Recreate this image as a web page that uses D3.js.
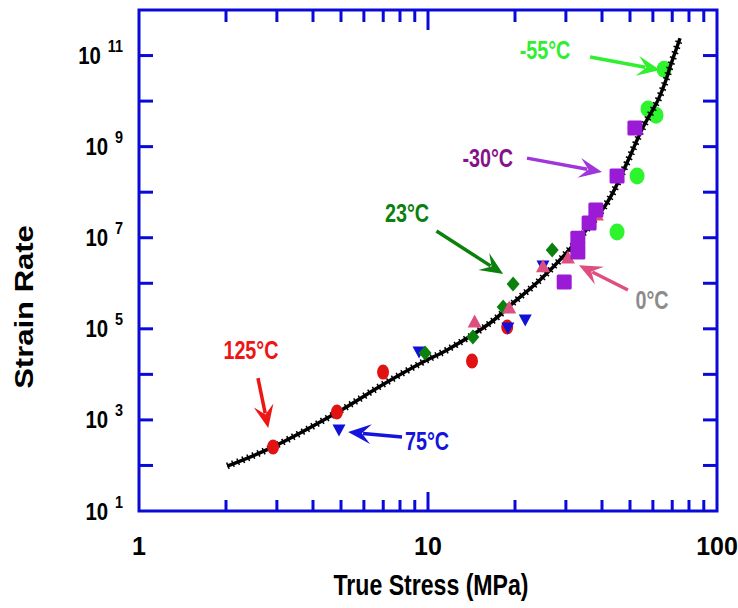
<!DOCTYPE html>
<html>
<head>
<meta charset="utf-8">
<script src="https://cdn.jsdelivr.net/npm/d3@7"></script>
<style>
    body { margin: 0; background: #fff; }
    text { font-family: "Liberation Sans", Arial, sans-serif; font-weight: bold; }
</style>
</head>
<body>
<div id="chart"></div>
<script>
"use strict"

// Fitted curve (stress MPa, strain rate)
var curveStress = [2.02, 2.91, 4.84, 6.99, 9.5, 11.6, 16.4, 19.7, 24.4, 30.3, 41.6, 48.8, 55.5, 62.5, 66.6, 68.8, 74.5];
var curveRate = [97, 255, 1450, 6000, 18000, 34000, 1.34e5, 3.7e5, 1.18e6, 4.85e6, 5.8e7, 4.4e8, 2.7e9, 1.05e10, 2.9e10, 5.6e10, 2.4e11];

// Measured points per temperature, [stress, rate]
var pts125 = [[2.91, 254], [4.84, 1490], [6.99, 11200], [14.2, 19600], [18.8, 1.1e5]];
var pts75 = [[4.92, 600], [9.31, 30900], [18.9, 1.04e5], [21.7, 1.56e5], [25.0, 2.4e6]];
var pts23 = [[9.77, 29400], [14.3, 66000], [18.2, 3.0e5], [19.7, 9.6e5], [26.9, 5.4e6]];
var pts0 = [[14.5, 1.41e5], [19.1, 2.86e5], [25.0, 2.3e6], [30.5, 3.58e6], [38.4, 3.15e7]];
var ptsM30 = [[52.0, 2.56e9], [45.1, 2.27e8], [38.1, 4.06e7], [36.1, 2.1e7], [33.0, 9.8e6], [33.0, 4.85e6], [29.6, 1.06e6]];
var ptsM55 = [[65.6, 5.0e10], [57.7, 6.7e9], [61.5, 4.9e9], [52.9, 2.27e8], [45.1, 1.33e7]];

// Annotation labels: text, label centre, arrow tail, arrow tip (data units)
var annoText = ["-55°C", "-30°C", "23°C", "125°C", "75°C", "0°C"];
var annoLabel = [[25.4, 1.32e11], [16.1, 5.6e8], [8.46, 3.5e7], [2.44, 34300], [9.92, 344], [59.6, 4.29e5]];
var annoTail = [[36.4, 9.3e10], [22.0, 5.6e8], [10.7, 1.4e7], [2.58, 8300], [8.13, 422], [49.2, 7.1e5]];
var annoTip = [[63.5, 4.8e10], [40.0, 2.77e8], [18.2, 1.6e6], [2.80, 664], [5.29, 542], [33.3, 2.5e6]];
var annoColor = ["#2fef2f", "#86128a", "#0c800c", "#ee1515", "#1414dd", "#8c8c8c"];
var arrowColor = ["#2fef2f", "#a035dc", "#0c800c", "#ee1515", "#1414dd", "#de4f80"];

// Tick values
var xMinorTicks = [2, 3, 4, 5, 6, 7, 8, 9, 20, 30, 40, 50, 60, 70, 80, 90];
var xLabels = [1, 10, 100];
var yTickExp = [2, 3, 4, 5, 6, 7, 8, 9, 10, 11];
var yLabelExp = [1, 3, 5, 7, 9, 11];

var width = 738, height = 608;
var margin = { top: 10, right: 21, bottom: 97, left: 139 };
var drawWidth = width - margin.left - margin.right;
var drawHeight = height - margin.top - margin.bottom;
var axisColor = "#0a0ad8";

var svg = d3.select("#chart").append("svg")
    .attr("width", width)
    .attr("height", height);

var xScale = d3.scaleLog().domain([1, 100]).range([margin.left, margin.left + drawWidth]);
var yScale = d3.scaleLog().domain([10, 1e12]).range([margin.top + drawHeight, margin.top]);

var x0 = xScale.range()[0], x1 = xScale.range()[1];
var y0 = yScale.range()[0], y1 = yScale.range()[1];

// No Arial Narrow installed, so squeeze Liberation Sans instead
function narrowText(parent, x, y, size, anchor, squeeze) {
    return parent.append("text")
        .attr("transform", "translate(" + x + "," + y + ") scale(" + (squeeze || 0.78) + ",1)")
        .attr("text-anchor", anchor)
        .style("font-size", size + "px");
}

// Frame ticks, pointing inward on all four sides
var ticks = svg.append("g").attr("stroke", axisColor).attr("stroke-width", 3);
xMinorTicks.concat([10]).forEach(function (v) {
    var len = v === 10 ? 19 : 11;
    ticks.append("line").attr("x1", xScale(v)).attr("x2", xScale(v)).attr("y1", y0).attr("y2", y0 - len);
    ticks.append("line").attr("x1", xScale(v)).attr("x2", xScale(v)).attr("y1", y1).attr("y2", y1 + len + 1);
});
yTickExp.forEach(function (e) {
    var y = yScale(Math.pow(10, e));
    ticks.append("line").attr("x1", x0).attr("x2", x0 + 14).attr("y1", y).attr("y2", y);
    ticks.append("line").attr("x1", x1).attr("x2", x1 - 14).attr("y1", y).attr("y2", y);
});

svg.append("rect")
    .attr("x", x0).attr("y", y1)
    .attr("width", x1 - x0).attr("height", y0 - y1)
    .attr("fill", "none")
    .attr("stroke", axisColor)
    .attr("stroke-width", 3);

// Tick labels
svg.selectAll(".xlabel").data(xLabels).enter().append("text")
    .attr("class", "xlabel")
    .attr("x", function (d) { return xScale(d); })
    .attr("y", y0 + 44)
    .attr("text-anchor", "middle")
    .style("font-size", "25px")
    .text(function (d) { return d; });

yLabelExp.forEach(function (e) {
    var t = narrowText(svg, 123, yScale(Math.pow(10, e)) + 8.5, 24, "end", 0.85);
    t.append("tspan").text("10");
    t.append("tspan").attr("dx", 8).attr("dy", -12).style("font-size", "17px").text(e);
});

// Axis titles
narrowText(svg, 431, 595, 30, "middle", 0.77).text("True Stress (MPa)");

svg.append("text")
    .attr("transform", "translate(33,307) rotate(-90) scale(1,0.86)")
    .attr("text-anchor", "middle")
    .style("font-size", "31px")
    .text("Strain Rate");

// -55°C circles sit under the curve
var plot = svg.append("g");
plot.selectAll(".m55").data(ptsM55).enter().append("ellipse")
    .attr("cx", function (d) { return xScale(d[0]); })
    .attr("cy", function (d) { return yScale(d[1]); })
    .attr("rx", 7.5).attr("ry", 8.5)
    .attr("fill", "#2ef42e");

// Fitted curve: solid core plus short cross-hatch to mimic the dense data trace
var line = d3.line()
    .x(function (d) { return xScale(d[0]); })
    .y(function (d) { return yScale(d[1]); })
    .curve(d3.curveCatmullRom.alpha(0.5));
var curveData = curveStress.map(function (s, i) { return [s, curveRate[i]]; });

plot.append("path").datum(curveData)
    .attr("d", line).attr("fill", "none")
    .attr("stroke", "#000").attr("stroke-width", 3.5);
plot.append("path").datum(curveData)
    .attr("d", line).attr("fill", "none")
    .attr("stroke", "#000").attr("stroke-width", 7)
    .attr("stroke-dasharray", "1.5,4");

// 125°C: red ovals
plot.selectAll(".p125").data(pts125).enter().append("ellipse")
    .attr("cx", function (d) { return xScale(d[0]); })
    .attr("cy", function (d) { return yScale(d[1]); })
    .attr("rx", 6).attr("ry", 7.5)
    .attr("fill", "#e01212");

// 75°C: blue down triangles
plot.selectAll(".p75").data(pts75).enter().append("path")
    .attr("transform", function (d) { return "translate(" + xScale(d[0]) + "," + yScale(d[1]) + ")"; })
    .attr("d", "M-6.5,-5.5L6.5,-5.5L0,6.5Z")
    .attr("fill", "#1010d8");

// 23°C: green diamonds
plot.selectAll(".p23").data(pts23).enter().append("path")
    .attr("transform", function (d) { return "translate(" + xScale(d[0]) + "," + yScale(d[1]) + ")"; })
    .attr("d", "M0,-7.5L6.5,0L0,7.5L-6.5,0Z")
    .attr("fill", "#0c800c");

// 0°C: pink up triangles
plot.selectAll(".p0").data(pts0).enter().append("path")
    .attr("transform", function (d) { return "translate(" + xScale(d[0]) + "," + yScale(d[1]) + ")"; })
    .attr("d", "M0,-7.5L7,5.5L-7,5.5Z")
    .attr("fill", "#dc5080");

// -30°C: purple squares
plot.selectAll(".m30").data(ptsM30).enter().append("rect")
    .attr("x", function (d) { return xScale(d[0]) - 7.5; })
    .attr("y", function (d) { return yScale(d[1]) - 7.5; })
    .attr("width", 15).attr("height", 15)
    .attr("rx", 1.5)
    .attr("fill", "#9a1ad6");

// Annotations with notched arrow heads
function arrowHead(tail, tip) {
    var ang = Math.atan2(tip[1] - tail[1], tip[0] - tail[0]);
    var L = 23, W = 10;
    var pts = [[0, 0], [-L, -W], [-L * 0.6, 0], [-L, W]].map(function (p) {
        return [tip[0] + p[0] * Math.cos(ang) - p[1] * Math.sin(ang),
                tip[1] + p[0] * Math.sin(ang) + p[1] * Math.cos(ang)];
    });
    return "M" + pts.join("L") + "Z";
}

annoText.forEach(function (t, i) {
    var tail = [xScale(annoTail[i][0]), yScale(annoTail[i][1])];
    var tip = [xScale(annoTip[i][0]), yScale(annoTip[i][1])];
    var ang = Math.atan2(tip[1] - tail[1], tip[0] - tail[0]);
    var end = [tip[0] - 15 * Math.cos(ang), tip[1] - 15 * Math.sin(ang)];
    svg.append("line")
        .attr("x1", tail[0]).attr("y1", tail[1])
        .attr("x2", end[0]).attr("y2", end[1])
        .attr("stroke", arrowColor[i]).attr("stroke-width", 3.5);
    svg.append("path")
        .attr("d", arrowHead(tail, tip))
        .attr("fill", arrowColor[i]);
    narrowText(svg, xScale(annoLabel[i][0]), yScale(annoLabel[i][1]) + 9, 26, "middle", 0.76)
        .attr("fill", annoColor[i])
        .text(t);
});
</script>
</body>
</html>
